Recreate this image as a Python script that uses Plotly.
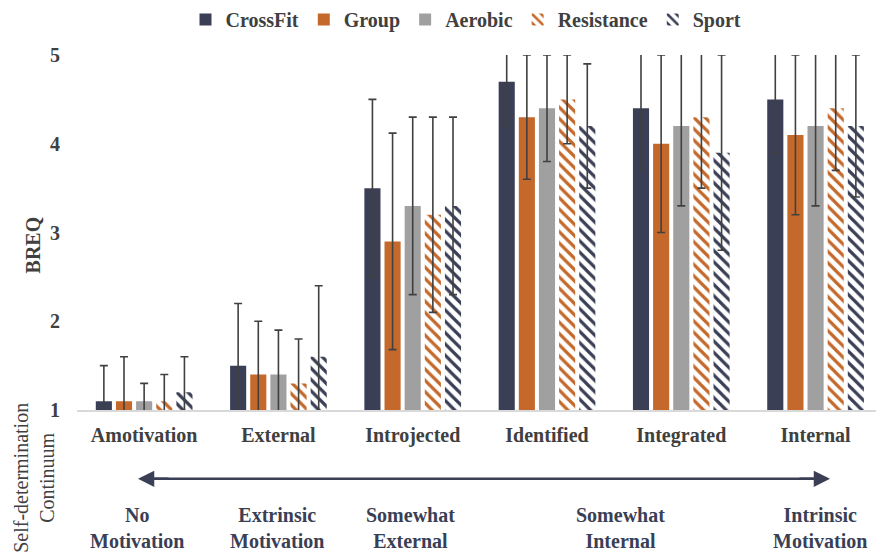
import plotly.graph_objects as go

categories = ["Amotivation", "External", "Introjected", "Identified", "Integrated", "Internal"]
series_names = ["CrossFit", "Group", "Aerobic", "Resistance", "Sport"]

crossfit = [1.1, 1.5, 3.5, 4.7, 4.4, 4.5]
group = [1.1, 1.4, 2.9, 4.3, 4.0, 4.1]
aerobic = [1.1, 1.4, 3.3, 4.4, 4.2, 4.2]
resistance = [1.1, 1.3, 3.2, 4.5, 4.3, 4.4]
sport = [1.2, 1.6, 3.3, 4.2, 3.9, 4.2]

crossfit_sd = [0.4, 0.7, 1.0, 0.5, 0.7, 0.6]
group_sd = [0.5, 0.6, 1.22, 0.7, 1.0, 0.9]
aerobic_sd = [0.2, 0.5, 1.0, 0.6, 0.9, 0.9]
resistance_sd = [0.3, 0.5, 1.1, 0.5, 0.8, 0.7]
sport_sd = [0.4, 0.8, 1.0, 0.7, 1.1, 0.8]

continuum_labels = ["No<br>Motivation", "Extrinsic<br>Motivation", "Somewhat<br>External",
                    "Somewhat<br>Internal", "Intrinsic<br>Motivation"]

NAVY = "#3a3f56"
ORANGE = "#c4692b"
GRAY = "#a0a0a0"
TXT = "#404040"
FONT = "Liberation Serif, Times New Roman, serif"

W, H = 876, 557
L, R, T, B = 77, 0, 54, 147

def px(x):
    return (x - L) / (W - L - R)

def py(y):
    return (H - B - y) / (H - T - B)

fig = go.Figure()

specs = [
    ("CrossFit", crossfit, crossfit_sd, dict(color=NAVY)),
    ("Group", group, group_sd, dict(color=ORANGE)),
    ("Aerobic", aerobic, aerobic_sd, dict(color=GRAY)),
    ("Resistance", resistance, resistance_sd,
     dict(color="white", pattern=dict(shape="\\", fgcolor=ORANGE, bgcolor="white",
                                      size=8, solidity=0.4, fillmode="replace"))),
    ("Sport", sport, sport_sd,
     dict(color="white", pattern=dict(shape="\\", fgcolor=NAVY, bgcolor="white",
                                      size=8, solidity=0.4, fillmode="replace"))),
]

for name, vals, sd, marker in specs:
    marker = dict(marker)
    marker["line"] = dict(width=0)
    fig.add_trace(go.Bar(
        name=name, x=categories, y=vals, marker=marker,
        error_y=dict(type="data", array=sd, visible=True, color=TXT, thickness=1.6, width=4),
    ))

BOLD = dict(family=FONT, size=20, color=TXT, weight="bold")

annotations = []
annotations.append(dict(text="BREQ", xref="paper", yref="paper", x=px(33), y=py(245),
                        xanchor="center", yanchor="middle",
                        textangle=-90, showarrow=False, font=BOLD))
annotations.append(dict(text="Self-determination<br>Continuum", xref="paper", yref="paper",
                        x=px(34), y=py(478), xanchor="center", yanchor="middle",
                        textangle=-90, showarrow=False,
                        font=dict(family=FONT, size=20, color=TXT)))
label_x = [137, 277, 410, 620, 820]
for lbl, xx in zip(continuum_labels, label_x):
    annotations.append(dict(text=lbl, xref="paper", yref="paper", x=px(xx), y=py(528),
                            xanchor="center", yanchor="middle",
                            showarrow=False, font=dict(family=FONT, size=20, color=NAVY, weight="bold")))
# arrowheads of the continuum arrow
for tip, tail in ((138, 170), (830, 798)):
    annotations.append(dict(text="", xref="paper", yref="paper", x=px(tip), y=py(479),
                            xanchor="center", yanchor="middle",
                            ax=tail - tip, ay=0, showarrow=True, arrowhead=2, arrowsize=1.3,
                            arrowwidth=2.5, arrowcolor=NAVY, standoff=0, startstandoff=0))

shapes = [dict(type="line", xref="paper", yref="paper", x0=px(150), x1=px(818),
               y0=py(479), y1=py(479), line=dict(color=NAVY, width=2.5))]

fig.update_layout(
    width=W, height=H,
    margin=dict(l=L, r=R, t=T, b=B),
    paper_bgcolor="white", plot_bgcolor="white",
    barmode="group", bargap=0.25, bargroupgap=0.2,
    font=dict(family=FONT, size=20, color=TXT),
    legend=dict(orientation="h", x=px(466), xanchor="center", y=py(18), yanchor="middle",
                font=BOLD, itemwidth=30,
                tracegroupgap=0, bgcolor="rgba(0,0,0,0)"),
    showlegend=True,
    annotations=annotations,
    shapes=shapes,
)
fig.update_xaxes(range=[-0.5, 5.45], showgrid=False, showline=True, linecolor="#d9d9d9",
                 linewidth=1.5, ticks="", tickfont=BOLD,
                 ticklabelstandoff=6, zeroline=False)
fig.update_yaxes(range=[1, 5], tickvals=[1, 2, 3, 4, 5], showgrid=False, showline=False,
                 zeroline=False, ticks="", tickfont=BOLD,
                 ticklabelstandoff=16)

fig.write_html("out.html", config={"displayModeBar": False},
               post_script="document.body.style.margin='0';document.body.style.padding='0';")
